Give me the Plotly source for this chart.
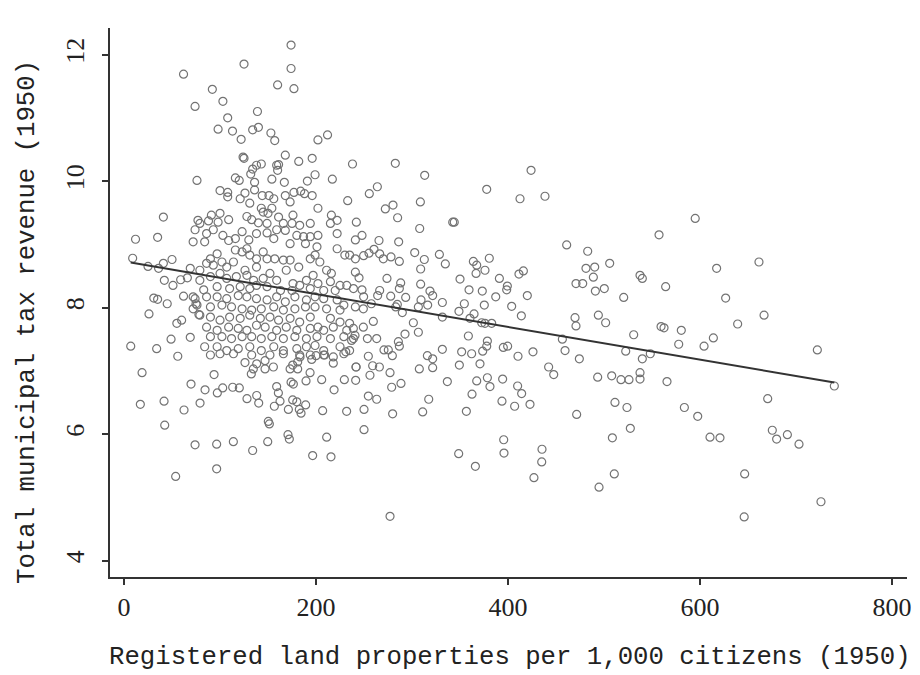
import plotly.graph_objects as go

# ---- data (x: land properties per 1,000; y: tax revenue) ----
land_top = [174,125,174,62,160,177,92,103,74,139,108,98,113,134,140,122,153,157,202,212,
            124,125,168,182,196,238,143,138,134,132,159,161,160,199,191,217,76,116,120,136,
            154,167,136,100,108,126,177,184,188,196,168,144,151,156,233,108,121,
            131,143,154,173,202,145]
tax_top = [12.15,11.85,11.78,11.69,11.52,11.46,11.45,11.26,11.18,11.10,11.00,10.82,10.79,10.81,10.85,10.66,10.76,10.64,10.65,10.73,
           10.38,10.36,10.41,10.31,10.36,10.27,10.27,10.25,10.19,10.11,10.25,10.26,10.17,10.10,10.00,10.03,10.01,10.05,10.01,9.98,
           10.03,9.98,9.86,9.85,9.82,9.81,9.82,9.84,9.80,9.77,9.77,9.77,9.77,9.72,9.69,9.75,9.72,
           9.65,9.57,9.57,9.67,9.57,9.51]

land_left = [41,12,35,9,25,36,41,50,42,51,31,35,45,26,62,59,66,69,7,34,49,56,69,55,60,72,78,72,75,83,79]
tax_left = [9.43,9.08,9.11,8.78,8.65,8.62,8.70,8.76,8.43,8.35,8.15,8.13,8.06,7.90,8.18,8.44,8.47,8.62,7.39,7.35,
            7.50,7.23,7.53,7.75,7.80,7.98,7.89,8.17,8.06,8.28,8.43]

land_core = [77,79,88,91,100,109,98,128,133,140,149,150,161,166,176,175,183,194,202,216,222,215,242,
             74,86,93,84,72,103,109,116,123,130,138,149,156,159,168,173,180,187,194,189,201,222,241,235,222,230,241,
             97,90,102,116,123,128,131,138,145,149,157,166,173,182,194,199,204,211,216,114,107,86,93,138,126,
             79,100,107,117,128,135,145,152,159,169,176,190,197,202,215,225,232,241,90,97,110,121,131,138,149,163,175,183,194,208,220,239,
             86,97,107,119,128,138,149,159,168,178,190,199,208,222,229,74,76,90,102,112,123,133,143,156,166,178,189,199,211,225,241,
             79,90,100,110,121,131,142,152,161,173,183,194,202,215,225,235,86,97,109,119,128,138,147,159,169,180,194,208,218,232,
             90,102,112,123,133,143,154,166,178,190,201,215,229,239,84,97,107,119,131,143,156,166,180,190,199,208,225,235,
             90,100,114,133,152,166,183,194,208,229]
tax_core = [9.38,9.33,9.37,9.46,9.49,9.39,9.35,9.44,9.39,9.34,9.33,9.49,9.43,9.33,9.46,9.33,9.30,9.33,9.14,9.46,9.38,9.33,9.35,
            9.23,9.17,9.23,9.04,9.04,9.14,9.06,9.09,9.20,9.07,9.17,9.18,9.09,9.23,9.22,9.01,9.14,9.12,9.12,9.01,8.96,9.17,9.07,8.83,8.93,8.83,8.77,
            8.85,8.77,8.72,8.91,8.88,8.93,8.83,8.77,8.88,8.77,8.77,8.75,8.75,8.64,8.77,8.83,8.72,8.59,8.54,8.72,8.64,8.70,8.67,8.64,8.59,
            8.59,8.54,8.46,8.49,8.51,8.43,8.46,8.54,8.43,8.59,8.38,8.43,8.51,8.38,8.41,8.35,8.35,8.56,8.49,8.33,8.30,8.33,8.30,8.35,8.33,8.27,8.27,8.35,8.30,8.27,8.27,8.30,
            8.17,8.17,8.14,8.19,8.17,8.14,8.12,8.17,8.09,8.17,8.12,8.17,8.14,8.12,8.04,8.14,8.04,8.01,8.04,8.01,7.98,7.96,7.98,8.01,7.96,7.98,8.01,8.01,7.98,7.96,8.01,
            7.88,7.85,7.80,7.85,7.83,7.88,7.83,7.85,7.80,7.83,7.77,7.85,7.69,7.83,7.77,7.75,7.69,7.64,7.69,7.67,7.64,7.72,7.69,7.64,7.69,7.64,7.67,7.64,7.69,7.64,
            7.54,7.54,7.51,7.54,7.54,7.51,7.54,7.51,7.54,7.51,7.54,7.51,7.54,7.51,7.38,7.38,7.32,7.35,7.38,7.32,7.38,7.32,7.35,7.38,7.40,7.32,7.38,7.32,
            7.25,7.27,7.27,7.25,7.25,7.27,7.25,7.25,7.25,7.27]

land_low = [18.8,93.8,69.8,84.4,97.2,102.8,113.2,120.1,128.1,138.2,140.3,17,41.7,62.5,79.2,42.4,74,96.5,113.9,134,
            149.7,170.8,172.2,150.3,151.4,96.5,53.8,196.5,215.6,211.1,156.6,162.5,160.8,159,171.2,175.7,180,189.2,184.4,182.6,
            206.9,231.9,174,176.4,189.6,193.8,205.9,218.8,229.5,241.3,241.7,126,134.7,132.6,138.2,146.9,146.9,155.6,173,175.7,
            180.9,180.9,183.3,195.5,200,209,218,218,231]
tax_low = [6.97,6.94,6.79,6.70,6.65,6.73,6.74,6.73,6.56,6.61,6.49,6.47,6.52,6.38,6.49,6.14,5.83,5.84,5.88,5.74,
           5.88,5.99,5.92,6.20,6.16,5.45,5.33,5.66,5.64,5.95,6.44,6.52,6.65,6.75,6.39,6.54,6.51,6.46,6.33,6.39,
           6.37,6.36,6.82,6.79,6.84,6.97,6.86,6.70,6.86,6.85,7.06,7.13,7.03,6.95,7.11,7.16,7.03,7.06,7.03,7.09,
           7.03,7.14,7.22,7.18,7.24,7.25,7.22,7.12,7.30]

land_mid_hi = [282.6,313.2,377.8,424,412.5,438.5,263.9,255.5,272.2,280.2,308.7,285,342.4,344,308,247.9,265.6,286.1,461.1,483,
               260.4,255.2,266.3,270.1,249.6,278.1,286.8,302.8,312.8,309,328.5,334.7,363.9,367.4,380.5,376,366.7,350,391,411.4,
               416,481.2,490.3,488.9,470.8,477.8,491,359.4,373.2,387.2,399.3,398.6,420.1,354.5,375.3,403.8,413.9,348.9,364.6,360.4,
               372.6,383,376,331.6,316.3,306.6,309.4,321.5,318.7,309,288.2,286.8,293.4,277.8,266.3,264.2,273.9,244.8,247.9,249.6,
               257.6,284.7,289.9,283,249.3,259.7,249.3,301.4,331.6,469.8,470.8,494.1]
tax_mid_hi = [10.28,10.09,9.87,10.17,9.72,9.76,9.91,9.80,9.56,9.62,9.67,9.42,9.35,9.35,9.25,9.14,9.06,9.04,8.99,8.89,
              8.92,8.86,8.85,8.77,8.82,8.80,8.73,8.87,8.76,8.61,8.84,8.69,8.73,8.67,8.78,8.59,8.54,8.45,8.46,8.53,
              8.58,8.62,8.64,8.48,8.38,8.38,8.26,8.28,8.26,8.17,8.34,8.28,8.19,8.06,8.04,8.02,7.87,7.94,7.90,7.83,
              7.76,7.75,7.75,8.08,8.04,8.01,8.12,8.19,8.26,8.37,8.39,8.30,8.16,8.18,8.27,8.19,8.46,8.47,8.28,8.17,
              8.06,8.05,7.92,8.01,7.98,7.78,7.69,7.76,7.85,7.84,7.71,7.88]

land_mid_lo = [240.6,237.1,253.5,263.2,238.9,306.6,292.7,285.8,286.8,270.8,275.3,279.5,254.5,241.7,259,266,256.2,277.1,278.8,288.5,
               254.5,263.2,250,279.8,250,316,321.5,307.6,321.5,331.6,336.8,317.4,311.1,358.7,351.7,362.1,373.6,378.5,377.8,395.1,
               399.6,410.4,426,349.3,370.8,367.4,378.5,381.2,362.5,356.6,394.4,410,414.2,393.7,406.9,422.9,442.3,447.6,456.6,459.4,
               474.3,471.5,493.4,395.5,395.8,348.6,366,435.4,435.1,427,277.1,494.8]
tax_mid_lo = [7.56,7.48,7.51,7.51,7.67,7.61,7.58,7.46,7.39,7.33,7.33,7.24,7.23,7.06,7.08,7.06,6.93,6.97,6.74,6.80,
              6.60,6.55,6.39,6.32,6.07,7.24,7.19,7.03,7.05,7.34,6.83,6.55,6.35,7.55,7.30,7.27,7.31,7.47,7.39,7.37,
              7.39,7.23,7.30,7.09,7.11,6.84,6.89,6.75,6.63,6.36,6.87,6.76,6.64,6.52,6.44,6.47,7.06,6.94,7.50,7.32,
              7.19,6.31,6.90,5.91,5.70,5.69,5.49,5.76,5.56,5.31,4.70,5.16]

land_right = [595,557.3,661.4,617.3,505.9,537.5,539.9,500.3,520.5,564.2,626.7,501.7,530.9,559.4,562.5,580.5,577.8,604.2,613.9,639.2,
              666.7,722.2,739.9,522.6,539.9,548.2,537.5,537.5,508,517.7,526,565.6,511.4,523.9,527.4,508.7,583.7,597.6,610.4,620.8,
              670.5,675.3,679.8,691,703.1,510.7,646.5,646,726]
tax_right = [9.41,9.15,8.72,8.62,8.70,8.51,8.46,8.30,8.16,8.33,8.15,7.76,7.57,7.70,7.68,7.64,7.42,7.39,7.52,7.74,
             7.88,7.33,6.76,7.31,7.19,7.27,6.97,6.87,6.92,6.86,6.86,6.83,6.50,6.42,6.09,5.94,6.42,6.28,5.95,5.94,
             6.56,6.06,5.92,5.99,5.84,5.37,5.37,4.69,4.93]

# fitted line
fit_intercept = 8.73
fit_slope = -0.00259

x_ticks = [0, 200, 400, 600, 800]
y_ticks = [4, 6, 8, 10, 12]
x_title = "Registered land properties per 1,000 citizens (1950)"
y_title = "Total municipal tax revenue (1950)"

land = land_top + land_left + land_core + land_low + land_mid_hi + land_mid_lo + land_right
tax = tax_top + tax_left + tax_core + tax_low + tax_mid_hi + tax_mid_lo + tax_right

line_x = [min(land), max(land)]
line_y = [fit_intercept + fit_slope * v for v in line_x]

fig = go.Figure()
fig.add_trace(go.Scatter(
    x=land, y=tax, mode="markers",
    marker=dict(symbol="circle-open", size=8, color="#737373", line=dict(width=1.2)),
    hoverinfo="skip", showlegend=False))
fig.add_trace(go.Scatter(
    x=line_x, y=line_y, mode="lines",
    line=dict(color="#333333", width=2), showlegend=False))

tick_font = dict(family="Liberation Serif", size=26, color="#222222")
title_font = dict(family="Liberation Mono", size=25.7, color="#222222")

W, H = 920, 675
ML, MR, MT, MB = 110, 13, 28, 98

fig.update_layout(
    width=W, height=H,
    margin=dict(l=ML, r=MR, t=MT, b=MB, autoexpand=False),
    paper_bgcolor="white", plot_bgcolor="white",
    showlegend=False,
)
fig.update_xaxes(
    range=[-14.6, 815.6], tickvals=x_ticks, ticktext=[str(v) for v in x_ticks],
    ticks="outside", ticklen=6, tickwidth=1.5, tickcolor="#333333",
    showline=True, linecolor="#333333", linewidth=1.5, automargin=False,
    showgrid=False, zeroline=False, tickfont=tick_font, ticklabelstandoff=0,
)
fig.update_yaxes(
    range=[3.74, 12.42], tickvals=y_ticks, ticktext=[str(v) for v in y_ticks],
    ticks="outside", ticklen=6, tickwidth=1.5, tickcolor="#333333",
    showline=True, linecolor="#333333", linewidth=1.5, automargin=False,
    showgrid=False, zeroline=False, tickfont=tick_font, tickangle=-90, ticklabelstandoff=8,
)

# axis titles as annotations, placed in paper pixels converted to paper fractions
pw = W - ML - MR
ph = H - MT - MB
fig.add_annotation(
    text=x_title, font=title_font, showarrow=False,
    xref="paper", yref="paper",
    x=(510 - ML) / pw, y=-(657 - (H - MB)) / ph,
    xanchor="center", yanchor="middle",
)
fig.add_annotation(
    text=y_title, font=title_font, showarrow=False, textangle=-90,
    xref="paper", yref="paper",
    x=-(ML - 28) / pw, y=((H - MB) - 322) / ph,
    xanchor="center", yanchor="middle",
)

fig.write_html("out.html", config={"displayModeBar": False},
               post_script="document.body.style.margin='0';")
